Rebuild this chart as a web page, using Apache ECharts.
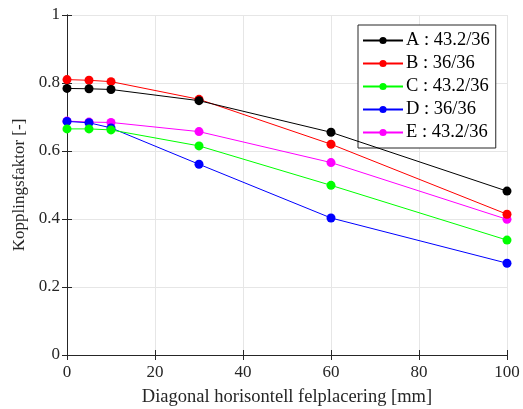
<!DOCTYPE html>
<html>
<head>
<meta charset="utf-8">
<script src="https://cdn.jsdelivr.net/npm/echarts@6/dist/echarts.min.js"></script>
<style>
  html, body { margin: 0; padding: 0; background: #fff; }
  #chart { width: 523px; height: 409px; }
</style>
</head>
<body>
<div id="chart"></div>
<script>
// Diagonal horizontal offset positions [mm]
const positions = [0, 5, 10, 30, 60, 100];

// Coupling factor per configuration
const seriesNames = ['A : 43.2/36', 'B : 36/36', 'C : 43.2/36', 'D : 36/36', 'E : 43.2/36'];
const valuesA = [0.784, 0.783, 0.781, 0.748, 0.655, 0.482];
const valuesB = [0.810, 0.808, 0.804, 0.752, 0.620, 0.414];
const valuesC = [0.665, 0.665, 0.662, 0.615, 0.499, 0.338];
const valuesD = [0.687, 0.683, 0.668, 0.561, 0.403, 0.270];
const valuesE = [0.688, 0.685, 0.684, 0.657, 0.566, 0.399];
const seriesColors = ['#000000', '#ff0000', '#00ff00', '#0000ff', '#ff00ff'];

const allValues = [valuesA, valuesB, valuesC, valuesD, valuesE];

const font = 'Liberation Serif, Times New Roman, serif';
const axisColor = '#262626';

const chart = echarts.init(document.getElementById('chart'), null, { renderer: 'canvas' });

const series = allValues.map((vals, i) => ({
  name: seriesNames[i],
  type: 'line',
  data: positions.map((x, j) => [x, vals[j]]),
  symbol: 'circle',
  symbolSize: 9,
  showSymbol: true,
  color: seriesColors[i],
  lineStyle: { width: 1, color: seriesColors[i] },
  itemStyle: { color: seriesColors[i] },
  emphasis: { disabled: true },
  animation: false,
  z: 10 - i
}));

const option = {
  animation: false,
  backgroundColor: '#ffffff',
  grid: { left: 67, right: 16, top: 15, bottom: 54, outerBoundsMode: 'none', containLabel: false },
  legend: {
    orient: 'vertical',
    left: 358,
    top: 25,
    padding: [6, 6, 6, 4],
    itemWidth: 40,
    itemHeight: 9,
    itemGap: 4,
    borderColor: '#262626',
    borderWidth: 1,
    backgroundColor: '#ffffff',
    textStyle: { fontFamily: font, fontSize: 18.5, color: '#000', padding: [0, 0, 0, -2] },
    data: seriesNames
  },
  xAxis: [{
    type: 'value',
    min: 0, max: 100, interval: 20,
    name: 'Diagonal horisontell felplacering [mm]',
    nameLocation: 'middle',
    nameGap: 33,
    nameTextStyle: { fontFamily: font, fontSize: 18.5, color: '#262626' },
    axisLine: { show: true, lineStyle: { color: axisColor, width: 1 } },
    axisTick: { show: true, inside: true, length: 5, lineStyle: { color: axisColor } },
    axisLabel: { fontFamily: font, fontSize: 17, color: '#262626', margin: 9 },
    splitLine: { show: true, lineStyle: { color: '#e6e6e6', width: 1 } }
  }, {
    type: 'value',
    position: 'top',
    min: 0, max: 100, interval: 20,
    axisLine: { show: true, lineStyle: { color: axisColor, width: 1 } },
    axisTick: { show: true, inside: true, length: 5, lineStyle: { color: axisColor } },
    axisLabel: { show: false },
    splitLine: { show: false }
  }],
  yAxis: [{
    type: 'value',
    min: 0, max: 1, interval: 0.2,
    name: 'Kopplingsfaktor [-]',
    nameLocation: 'middle',
    nameGap: 35,
    nameTextStyle: { fontFamily: font, fontSize: 17, color: '#262626' },
    axisLine: { show: true, lineStyle: { color: axisColor, width: 1 } },
    axisTick: { show: true, inside: true, length: 5, lineStyle: { color: axisColor } },
    axisLabel: { fontFamily: font, fontSize: 17, color: '#262626', margin: 7 },
    splitLine: { show: true, lineStyle: { color: '#e6e6e6', width: 1 } }
  }, {
    type: 'value',
    position: 'right',
    min: 0, max: 1, interval: 0.2,
    axisLine: { show: true, lineStyle: { color: axisColor, width: 1 } },
    axisTick: { show: true, inside: true, length: 5, lineStyle: { color: axisColor } },
    axisLabel: { show: false },
    splitLine: { show: false }
  }],
  series: series
};

chart.setOption(option);
</script>
</body>
</html>
